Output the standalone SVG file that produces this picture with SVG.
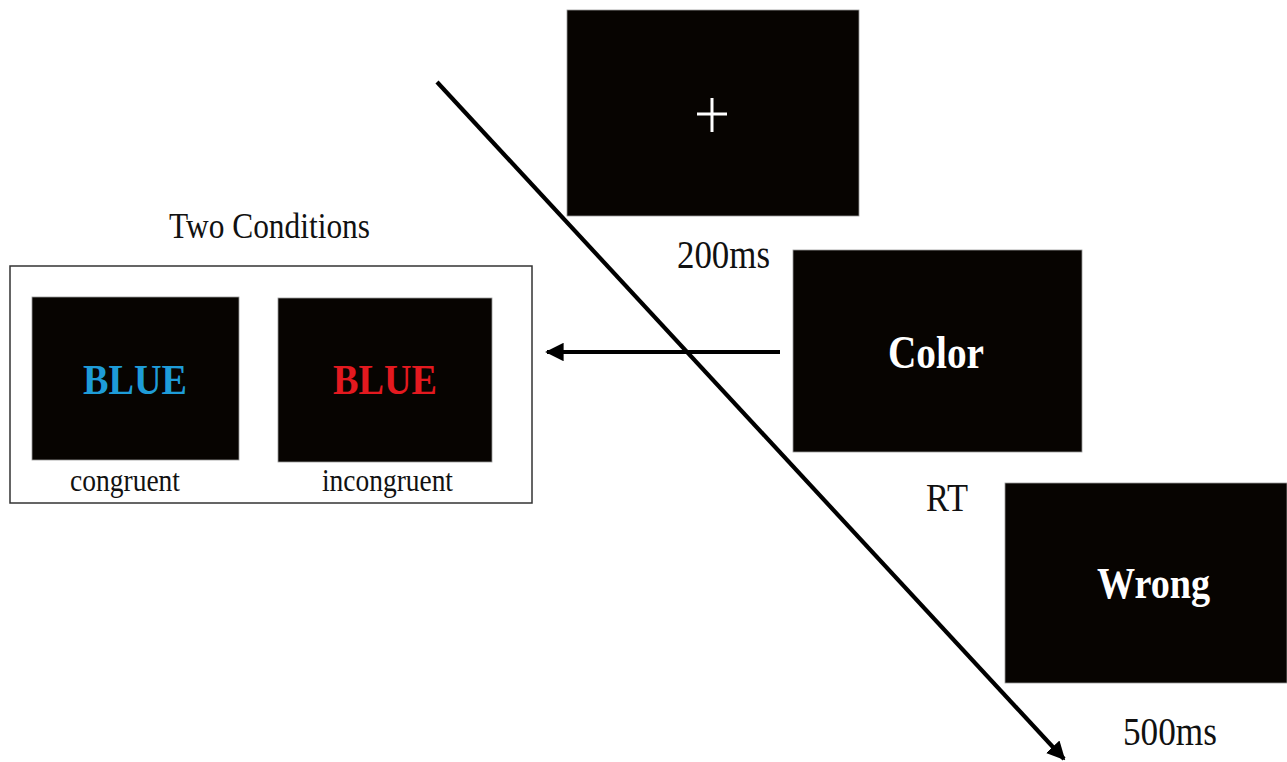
<svg xmlns="http://www.w3.org/2000/svg" width="1287" height="762" viewBox="0 0 1287 762">
  <style>
    .screen { fill: #070401; stroke: #9a9a9a; stroke-width: 0.8; }
    .label { font-family: "Liberation Serif", "Times New Roman", serif; fill: #111; }
    .word { font-family: "Liberation Serif", "Times New Roman", serif; font-weight: bold; }
    .conn { stroke: #000; stroke-width: 4.2; fill: none; }
  </style>
  <defs>
    <marker id="head" viewBox="0 0 10 10" refX="9" refY="5" markerWidth="4.4" markerHeight="4.4" orient="auto" markerUnits="strokeWidth">
      <path d="M0,0 L10,5 L0,10 Z" fill="#000"/>
    </marker>
  </defs>

  <rect width="1287" height="762" fill="#fff"/>

  <!-- condition panel -->
  <g id="conditions">
    <text class="label" x="169" y="238" font-size="36" textLength="201" lengthAdjust="spacingAndGlyphs">Two Conditions</text>
    <rect x="10" y="266" width="522" height="237" fill="#fff" stroke="#333" stroke-width="1.5"/>
  </g>
  <g id="congruent">
    <rect class="screen" x="32" y="297" width="207" height="163"/>
    <text class="word" x="83" y="394" font-size="43" fill="#1e9cd8" textLength="104" lengthAdjust="spacingAndGlyphs">BLUE</text>
    <text class="label" x="70" y="491" font-size="31" textLength="110" lengthAdjust="spacingAndGlyphs">congruent</text>
  </g>
  <g id="incongruent">
    <rect class="screen" x="278" y="298" width="214" height="164"/>
    <text class="word" x="333" y="394" font-size="43" fill="#e3191f" textLength="104" lengthAdjust="spacingAndGlyphs">BLUE</text>
    <text class="label" x="322" y="491" font-size="31" textLength="131" lengthAdjust="spacingAndGlyphs">incongruent</text>
  </g>

  <!-- trial sequence -->
  <g id="fixation">
    <rect class="screen" x="567" y="10" width="292" height="206"/>
    <path d="M697,114 H727 M712,98 V132" stroke="#fff" stroke-width="3"/>
    <text class="label" x="677" y="268" font-size="40" textLength="93" lengthAdjust="spacingAndGlyphs">200ms</text>
  </g>
  <g id="stimulus">
    <rect class="screen" x="793" y="250" width="289" height="202"/>
    <text class="word" x="888" y="368" font-size="47" fill="#fff" textLength="96" lengthAdjust="spacingAndGlyphs">Color</text>
    <text class="label" x="926" y="511" font-size="39" textLength="42" lengthAdjust="spacingAndGlyphs">RT</text>
  </g>
  <g id="feedback">
    <rect class="screen" x="1005" y="483" width="282" height="200"/>
    <text class="word" x="1097" y="598" font-size="45" fill="#fff" textLength="113" lengthAdjust="spacingAndGlyphs">Wrong</text>
    <text class="label" x="1123" y="745" font-size="40" textLength="94" lengthAdjust="spacingAndGlyphs">500ms</text>
  </g>

  <g id="connectors">
    <line class="conn" x1="437" y1="82" x2="1064" y2="759" marker-end="url(#head)"/>
    <line class="conn" x1="780" y1="352" x2="547" y2="352" marker-end="url(#head)"/>
  </g>
</svg>
